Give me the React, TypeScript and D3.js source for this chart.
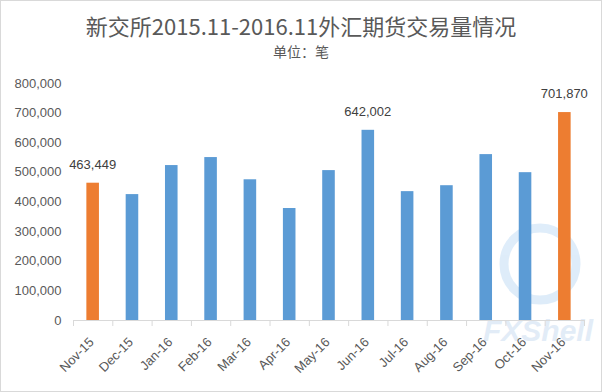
import React from "react";
import * as d3 from "d3";

const categories = ["Nov-15","Dec-15","Jan-16","Feb-16","Mar-16","Apr-16","May-16","Jun-16","Jul-16","Aug-16","Sep-16","Oct-16","Nov-16"];
const values = [463449, 425000, 523000, 550000, 475000, 378000, 506000, 642002, 435000, 455000, 560000, 499000, 701870];
const highlighted = ["Nov-15", "Nov-16"];
const labelled = ["Nov-15", "Jun-16", "Nov-16"];
const yTicks = [0, 100000, 200000, 300000, 400000, 500000, 600000, 700000, 800000];
const title = "新交所2015.11-2016.11外汇期货交易量情况";
const subtitle = "单位：笔";

const W = 602, H = 392;
const left = 73, right = 584, bottom = 320, top = 83;

export default function App() {
  const xOuter = d3.scaleBand<string>().domain(categories).range([left, right]).padding(0);
  const x = d3.scaleBand<string>().domain(categories).range([left, right]).paddingInner(0.68).paddingOuter(0.34);
  const y = d3.scaleLinear().domain([0, 800000]).range([bottom, top]);
  const fmt = d3.format(",");
  const boundaries = [...categories.map((c) => xOuter(c)!), right];
  const labelFont = "'Liberation Sans', Arial, sans-serif";
  const cjkFont = "'Noto Sans CJK SC', sans-serif";

  return (
    <svg width={W} height={H} style={{ position: "absolute", left: 0, top: 0, background: "#fff" }}>
      <rect x={0.5} y={0.5} width={W - 1} height={H - 1} fill="#fff" stroke="#d9d9d9" />
      {/* faint watermark */}
      <g opacity={0.25}>
        <circle cx={540} cy={264} r={36} fill="none" stroke="#7fb8ea" strokeWidth={9} />
        <text x={538} y={341} textAnchor="middle" fontFamily={labelFont} fontStyle="italic" fontWeight="bold" fontSize={30} fill="#8fb6e0">FXShell</text>
      </g>
      <text x={301} y={35} textAnchor="middle" fontFamily={cjkFont} fontSize={22} fill="#595959">{title}</text>
      <text x={301} y={57} textAnchor="middle" fontFamily={cjkFont} fontSize={14} fill="#595959">{subtitle}</text>
      {yTicks.map((t) => (
        <text key={t} x={61.5} y={y(t)} dy="0.35em" textAnchor="end" fontFamily={labelFont} fontSize={13} fill="#595959">{fmt(t)}</text>
      ))}
      {categories.map((c, i) => (
        <rect key={c} x={x(c)} y={y(values[i])} width={x.bandwidth()} height={bottom - y(values[i])}
          fill={highlighted.includes(c) ? "#ED7D31" : "#5B9BD5"} />
      ))}
      <line x1={left} x2={right} y1={bottom + 0.5} y2={bottom + 0.5} stroke="#d9d9d9" />
      {boundaries.map((b, i) => (
        <line key={i} x1={b + 0.5} x2={b + 0.5} y1={bottom} y2={bottom + 6} stroke="#d9d9d9" />
      ))}
      {categories.map((c, i) => labelled.includes(c) ? (
        <text key={c} x={x(c)! + x.bandwidth() / 2} y={y(values[i]) - 14} textAnchor="middle" fontFamily={labelFont} fontSize={13} fill="#404040">{fmt(values[i])}</text>
      ) : null)}
      {categories.map((c) => (
        <text key={c} transform={`translate(${xOuter(c)! + xOuter.bandwidth() / 2 + 2},343) rotate(-45)`} textAnchor="end"
          fontFamily={labelFont} fontSize={13} fill="#595959">{c}</text>
      ))}
    </svg>
  );
}
